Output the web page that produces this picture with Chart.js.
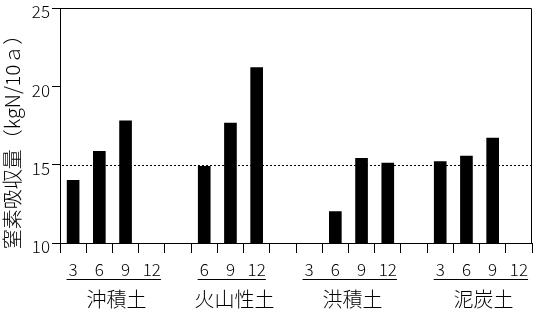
<!DOCTYPE html>
<html>
<head>
<meta charset="utf-8">
<script src="https://cdn.jsdelivr.net/npm/chart.js@4"></script>
<style>
  html, body { margin: 0; padding: 0; background: #fff; }
</style>
</head>
<body>
<canvas id="myChart" width="536" height="311"></canvas>
<script>
// 施肥時期（月）ごとのラベル、空欄は区切り
const months = ['3', '6', '9', '12', '', '6', '9', '12', '', '3', '6', '9', '12', '', '3', '6', '9', '12'];
// 窒素吸収量 kgN/10a
const uptake = [14.0, 15.85, 17.8, null, null, 14.9, 17.65, 21.2, null, null, 12.0, 15.4, 15.1, null, 15.2, 15.55, 16.7, null];
// 土壌区分とその範囲（カテゴリ番号）
const soils = ['沖積土', '火山性土', '洪積土', '泥炭土'];
const soilFirst = [0, 5, 9, 14];
const soilLast = [3, 7, 12, 17];
const yTicks = [10, 15, 20, 25];
const refLine = 15;
const yTitle = '窒素吸収量（kgN/10ａ）';

const font = '"Noto Sans CJK JP", "Noto Sans", sans-serif';

const extras = {
    id: 'extras',
    afterDraw(chart) {
        const c = chart.ctx;
        const a = chart.chartArea;
        const x = chart.scales.x;
        const y = chart.scales.y;
        c.save();
        c.strokeStyle = '#000';
        c.lineWidth = 1;
        // 枠の上と右
        c.beginPath();
        c.moveTo(Math.round(a.left) + 0.5, Math.round(a.top) + 0.5);
        c.lineTo(Math.round(a.right) - 0.5, Math.round(a.top) + 0.5);
        c.lineTo(Math.round(a.right) - 0.5, Math.round(a.bottom));
        c.stroke();
        // 基準線
        const yr = Math.round(y.getPixelForValue(refLine)) + 0.5;
        c.setLineDash([2, 2]);
        c.beginPath();
        c.moveTo(a.left + 2, yr);
        c.lineTo(a.right - 1, yr);
        c.stroke();
        c.setLineDash([]);
        // 土壌区分ラベルと下線
        c.fillStyle = '#000';
        c.font = '300 20px ' + font;
        c.textAlign = 'center';
        c.textBaseline = 'middle';
        for (let i = 0; i < soils.length; i++) {
            const x0 = x.getPixelForValue(soilFirst[i] - 0.25);
            const x1 = x.getPixelForValue(soilLast[i] + 0.35);
            c.beginPath();
            c.moveTo(x0, 279.5);
            c.lineTo(x1, 279.5);
            c.stroke();
            const xm = x.getPixelForValue((soilFirst[i] + soilLast[i]) / 2 + 0.15);
            c.fillText(soils[i], xm, 299);
        }
        // 縦軸タイトル
        c.translate(12, 137);
        c.rotate(-Math.PI / 2);
        c.font = '300 20px ' + font;
        c.fillText(yTitle, 0, 0);
        c.restore();
    }
};

new Chart(document.getElementById('myChart'), {
    type: 'bar',
    data: {
        labels: months,
        datasets: [{
            data: uptake,
            backgroundColor: '#000',
            barThickness: 12
        }]
    },
    options: {
        responsive: false,
        animation: false,
        layout: { padding: { top: 8, right: 4, left: 0, bottom: 0 } },
        plugins: { legend: { display: false }, tooltip: { enabled: false } },
        scales: {
            x: {
                offset: true,
                grid: { offset: true, drawOnChartArea: false, tickLength: 10, color: '#000' },
                border: { color: '#000', width: 1 },
                ticks: { color: '#000', font: { family: font, size: 17, weight: '300' }, padding: 6, maxRotation: 0, autoSkip: false },
                afterFit(s) { s.height = 68; s.paddingLeft = 0; s.paddingRight = 0; }
            },
            y: {
                min: 10,
                max: 25,
                afterBuildTicks(s) { s.ticks = yTicks.map(v => ({ value: v })); },
                grid: { drawOnChartArea: false, tickLength: 8, color: '#000' },
                border: { color: '#000', width: 1 },
                ticks: { color: '#000', font: { family: font, size: 17, weight: '300' }, padding: 2, labelOffset: 4 },
                afterFit(s) { s.width = 60; s.paddingTop = 0; s.paddingBottom = 0; }
            }
        }
    },
    plugins: [extras]
});
</script>
</body>
</html>
